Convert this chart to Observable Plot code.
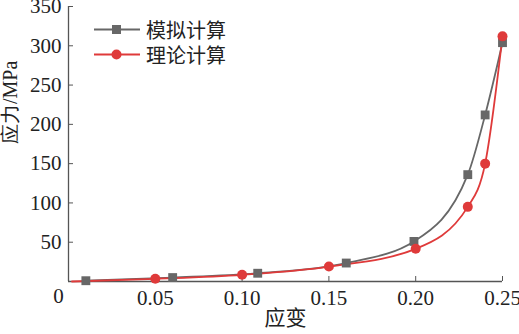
<!DOCTYPE html>
<html>
<head>
<meta charset="utf-8">
<script src="https://cdn.jsdelivr.net/npm/d3@7"></script>
<script src="https://cdn.jsdelivr.net/npm/@observablehq/plot@0.6"></script>
<style>
  html, body { margin: 0; padding: 0; background: #fff; }
  #wrap { position: relative; width: 519px; height: 334px; }
  .leg { position: absolute; left: 92px; display: flex; align-items: center; font-family: "Liberation Serif", "Noto Sans CJK SC"; font-size: 20px; color: #222; }
  .leg svg { margin-right: 4px; }
</style>
</head>
<body>
<div id="wrap"></div>
<script>
// Data
const simStrain = [0.010, 0.060, 0.109, 0.160, 0.199, 0.230, 0.240, 0.250];
const simStress = [1, 5, 10.5, 23.5, 51, 136, 212, 304];
const theoStrain = [0.002, 0.050, 0.100, 0.150, 0.200, 0.230, 0.240, 0.250];
const theoStress = [0, 3.4, 8.5, 19, 41.6, 95, 150, 312];
const xTicks = [0, 0.05, 0.10, 0.15, 0.20, 0.25];
const yTicks = [50, 100, 150, 200, 250, 300, 350];
const seriesNames = ["模拟计算", "理论计算"];
const xLabel = "应变";
const yLabel = "应力/MPa";

const grayC = "#676767";
const redC = "#df3a3a";
const axisC = "#555";
const font = "Liberation Serif";

const sim = simStrain.map((x, i) => ({x, y: simStress[i]}));
const theo = theoStrain.map((x, i) => ({x, y: theoStress[i]}));

const chart = Plot.plot({
  width: 519,
  height: 334,
  marginLeft: 68,
  marginRight: 17,
  marginTop: 6,
  marginBottom: 53,
  style: {fontFamily: font, fontSize: "21px", color: "#222", background: "#fff"},
  x: {domain: [0, 0.25]},
  y: {domain: [0, 350]},
  marks: [
    Plot.axisY(yTicks, {tickSize: -5, tickPadding: 12, stroke: axisC, fontSize: 21, label: null, fontFamily: font}),
    Plot.axisX(xTicks.filter(d => d > 0), {tickSize: -5, tickPadding: 14, stroke: axisC, fontSize: 21, label: null, fontFamily: font, tickFormat: d => d.toFixed(2)}),
    Plot.text(xTicks.filter(d => d === 0), {x: d => d, frameAnchor: "bottom", dy: 21, dx: -10, text: d => String(d), fontSize: 21, fontFamily: font}),
    Plot.text([xLabel], {frameAnchor: "bottom", dy: 43, text: d => d, fontSize: 21, fontFamily: "Noto Sans CJK SC"}),
    Plot.text([yLabel], {frameAnchor: "left", dx: -58, rotate: -90, text: d => d, fontSize: 20, fontFamily: font}),
    Plot.ruleX([0], {stroke: axisC, strokeWidth: 1.3}),
    Plot.ruleY([0], {stroke: axisC, strokeWidth: 1.3}),
    Plot.line(sim, {x: "x", y: "y", stroke: grayC, strokeWidth: 1.8, curve: "monotone-x"}),
    Plot.line(theo, {x: "x", y: "y", stroke: redC, strokeWidth: 1.8, curve: "monotone-x"}),
    Plot.dot(sim, {x: "x", y: "y", symbol: "square", r: 5, fill: grayC}),
    Plot.dot(theo.filter(d => d.x >= 0.01), {x: "x", y: "y", symbol: "circle", r: 5, fill: redC})
  ]
});
const wrap = document.getElementById("wrap");
wrap.appendChild(chart);

const legItems = [
  {name: seriesNames[0], color: grayC, shape: "square", top: 15},
  {name: seriesNames[1], color: redC, shape: "circle", top: 40}
];
for (const it of legItems) {
  const div = document.createElement("div");
  div.className = "leg";
  div.style.top = it.top + "px";
  const marker = it.shape === "square"
    ? `<rect x="20" y="6" width="9" height="9" fill="${it.color}"/>`
    : `<circle cx="24.5" cy="10.5" r="5" fill="${it.color}"/>`;
  div.innerHTML = `<svg width="50" height="21"><line x1="2" x2="48" y1="10.5" y2="10.5" stroke="${it.color}" stroke-width="1.8"/>${marker}</svg><span>${it.name}</span>`;
  wrap.appendChild(div);
}
</script>
</body>
</html>
